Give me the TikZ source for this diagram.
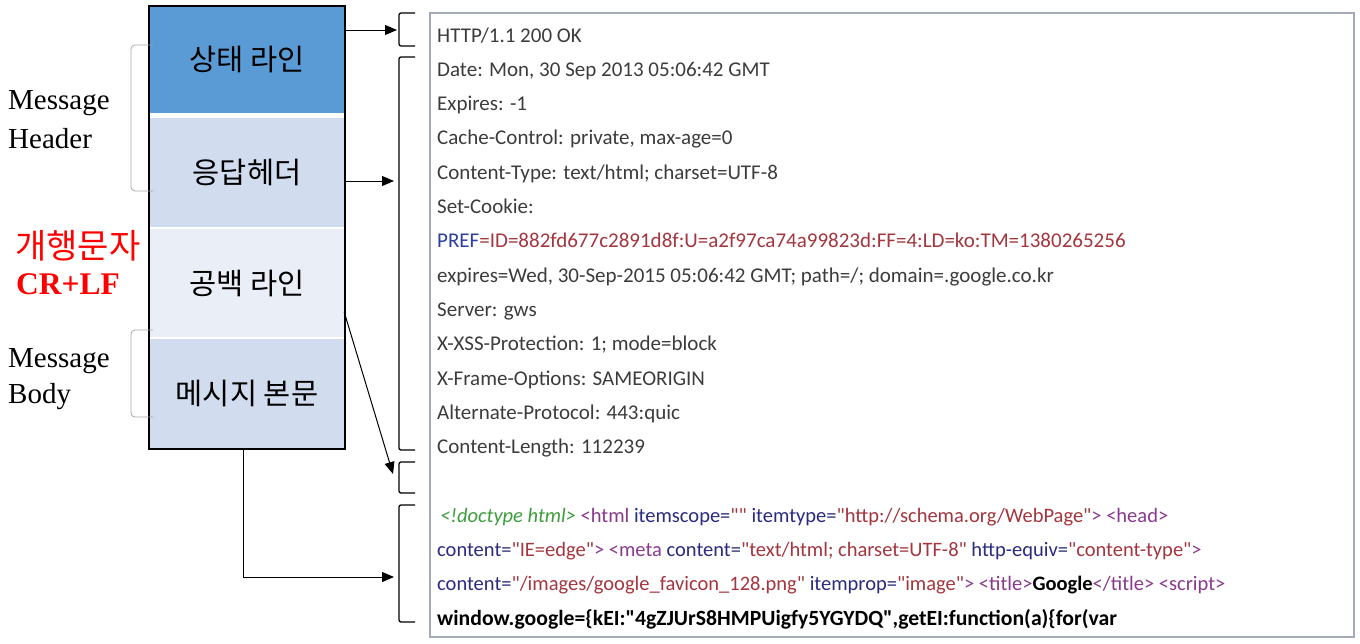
\documentclass[tikz,border=0pt]{standalone}
\usepackage{fontspec}
\setmainfont{Liberation Serif}
\newfontfamily\kr{Noto Sans CJK KR}
\newfontfamily\scr{Carlito}
\usetikzlibrary{arrows.meta}
\definecolor{segdark}{HTML}{5B9BD5}
\definecolor{seglight}{HTML}{D1DCEE}
\definecolor{segpale}{HTML}{E9EEF7}
\definecolor{hdr}{HTML}{3C3C3C}
\definecolor{prefblue}{HTML}{2F3F9F}
\definecolor{valred}{HTML}{A3363E}
\definecolor{tagp}{HTML}{8A3A8E}
\definecolor{attr}{HTML}{2B2B7F}
\definecolor{dgreen}{HTML}{3E9E3E}
\definecolor{panelbd}{HTML}{A2AAB8}
\tikzset{
  seg/.style={minimum width=194pt, inner sep=0pt, font=\kr\fontsize{29.5}{32}\selectfont},
  arr/.style={-{Triangle[length=12pt,width=10pt]}, line width=1pt},
  graybr/.style={draw=gray!70, line width=0.8pt, rounded corners=4pt},
  blackbr/.style={draw=black, line width=1.3pt, rounded corners=2pt},
  lbl/.style={anchor=base west, inner sep=0pt, font=\fontsize{29}{32}\selectfont},
  ln/.style={anchor=base west, inner sep=0pt, font=\scr\fontsize{21}{24}\selectfont, text=hdr},
  lnh/.style={ln, font=\scr\fontsize{20.5}{24}\selectfont},
}
\begin{document}
\begin{tikzpicture}[x=1pt,y=-1pt]
\useasboundingbox (0,0) rectangle (1360,643);
% left stack
\node[seg, fill=segdark, minimum height=107pt] (s1) at (247,59.5) {\raisebox{-3pt}{상태 라인}};
\node[seg, fill=seglight, minimum height=109pt] (s2) at (247,172.5) {\raisebox{-2pt}{응답헤더}};
\node[seg, fill=segpale, minimum height=108pt] (s3) at (247,283) {\raisebox{-2pt}{공백 라인}};
\node[seg, fill=seglight, minimum height=109pt] (s4) at (247,393.5) {\raisebox{-1.5pt}{메시지 본문}};
\node[draw=black, line width=2pt, minimum width=196pt, minimum height=443pt, inner sep=0pt] (frame) at (247,227.5) {};
% left labels
\draw[graybr] (153,45) -- (131,45) -- (131,191) -- (153,191);
\draw[graybr] (153,330) -- (131,330) -- (131,417) -- (153,417);
\node[lbl] (mh1) at (8,109) {Message};
\node[lbl] (mh2) at (8,148) {Header};
\node[lbl] (mb1) at (8,367) {Message};
\node[lbl] (mb2) at (8,403) {Body};
\node[anchor=base west, inner sep=0pt, text=red, font=\kr\fontsize{34}{36}\selectfont] (nl) at (15,258) {개행문자};
\node[anchor=base west, inner sep=0pt, text=red, font=\bfseries\fontsize{31.5}{34}\selectfont] (crlf) at (16,294) {CR+LF};
% panel
\node[draw=panelbd, line width=1.6pt, fill=white, minimum width=924pt, minimum height=624pt, inner sep=0pt] (panel) at (892,325) {};
% right brackets
\draw[blackbr] (415,13) -- (399,13) -- (399,46) -- (415,46);
\draw[blackbr] (415,57) -- (399,57) -- (399,450) -- (415,450);
\draw[blackbr] (415,462) -- (399,462) -- (399,493) -- (415,493);
\draw[blackbr] (415,505) -- (399,505) -- (399,622) -- (415,622);
\coordinate (b1) at (397,30);
\coordinate (b2) at (394,181);
\coordinate (b3) at (393,474);
\coordinate (b4) at (394,577);
% arrows
\draw[arr] (s1.east |- b1) -- (b1);
\draw[arr] (s2.east |- b2) -- (b2);
\draw[arr] ([yshift=-29pt]s3.east) -- (b3);
\draw[arr] ([xshift=-4pt]frame.south) |- (b4);
% header lines
\node[ln] (l1) at (437,42) {HTTP/1.1 200 OK};
\node[ln] (l2) at (437,76.3) {Date: Mon, 30 Sep 2013 05:06:42 GMT};
\node[ln] (l3) at (437,110.6) {Expires: -1};
\node[ln] (l4) at (437,144.9) {Cache-Control: private, max-age=0};
\node[ln] (l5) at (437,179.2) {Content-Type: text/html; charset=UTF-8};
\node[ln] (l6) at (437,213.5) {Set-Cookie:};
\node[ln] (l7) at (437,247.8) {\textcolor{prefblue}{PREF}\textcolor{valred}{=ID=882fd677c2891d8f:U=a2f97ca74a99823d:FF=4:LD=ko:TM=1380265256}};
\node[ln] (l8) at (437,282.1) {expires=Wed, 30-Sep-2015 05:06:42 GMT; path=/; domain=.google.co.kr};
\node[ln] (l9) at (437,316.4) {Server: gws};
\node[ln] (l10) at (437,350.7) {X-XSS-Protection: 1; mode=block};
\node[ln] (l11) at (437,385) {X-Frame-Options: SAMEORIGIN};
\node[ln] (l12) at (437,419.3) {Alternate-Protocol: 443:quic};
\node[ln] (l13) at (437,453.6) {Content-Length: 112239};
% body lines
\node[lnh] (l15) at (440,522.2) {\textcolor{dgreen}{\itshape <!doctype html>}\ \textcolor{tagp}{<html} \textcolor{attr}{itemscope=}\textcolor{valred}{""} \textcolor{attr}{itemtype=}\textcolor{valred}{"http://schema.org/WebPage"}\textcolor{tagp}{> <head>}};
\node[lnh] (l16) at (437,556.5) {\textcolor{attr}{content=}\textcolor{valred}{"IE=edge"}\textcolor{tagp}{> <meta} \textcolor{attr}{content=}\textcolor{valred}{"text/html; charset=UTF-8"} \textcolor{attr}{http-equiv=}\textcolor{valred}{"content-type"}\textcolor{tagp}{>}};
\node[lnh] (l17) at (437,590.8) {\textcolor{attr}{content=}\textcolor{valred}{"/images/google\_favicon\_128.png"} \textcolor{attr}{itemprop=}\textcolor{valred}{"image"}\textcolor{tagp}{> <title>}\textcolor{black}{\bfseries Google}\textcolor{tagp}{</title> <script>}};
\node[ln, text=black, font=\scr\fontsize{21.7}{24}\selectfont] (l18) at (437,625.1) {\bfseries window.google=\{kEI:"4gZJUrS8HMPUigfy5YGYDQ",getEI:function(a)\{for(var};
\end{tikzpicture}
\end{document}
